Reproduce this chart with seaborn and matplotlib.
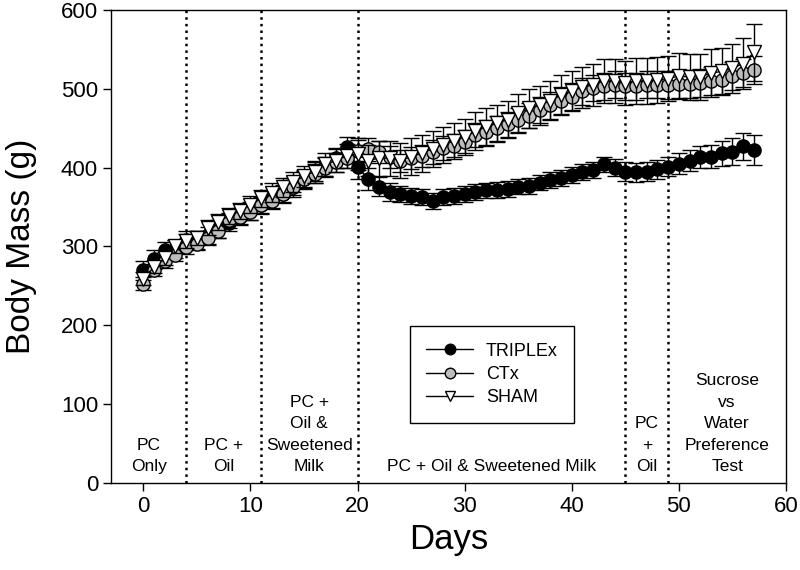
import matplotlib
matplotlib.use('Agg')
import matplotlib.pyplot as plt
import seaborn as sns
import numpy as np
import pandas as pd

# Body mass per day for each group
days = list(range(58))

triplex = [270, 284, 295, 297, 308, 308, 314, 322, 330, 338, 345, 352, 360, 366, 375, 385, 395, 402, 412, 426,
           401, 385, 376, 369, 367, 364, 363, 358, 363, 364, 367, 369, 371, 372, 373, 376, 377, 381, 384, 387,
           391, 394, 397, 404, 400, 395, 394, 395, 398, 401, 405, 409, 413, 414, 418, 420, 427, 422]
ctx = [253, 270, 281, 289, 299, 303, 311, 320, 333, 338, 344, 352, 358, 367, 376, 385, 392, 400, 407, 412,
       421, 423, 420, 414, 408, 412, 415, 420, 425, 428, 433, 441, 445, 450, 455, 460, 466, 473, 479, 485,
       490, 497, 501, 503, 505, 503, 503, 505, 505, 505, 506, 506, 507, 510, 511, 516, 520, 524]
sham = [259, 274, 285, 300, 307, 311, 324, 331, 339, 345, 353, 361, 368, 375, 382, 389, 395, 404, 409, 415,
        417, 409, 412, 412, 409, 414, 418, 424, 429, 434, 439, 446, 452, 456, 461, 469, 475, 479, 485, 492,
        497, 502, 505, 510, 510, 507, 510, 510, 511, 513, 516, 515, 515, 520, 522, 526, 532, 546]

# SEM
triplex_err = [12, 12, 11, 11, 11, 11, 11, 11, 11, 11, 11, 11, 11, 11, 12, 12, 12, 12, 13, 13,
               15, 14, 12, 11, 10, 10, 10, 10, 10, 10, 10, 10, 10, 10, 10, 10, 10, 10, 10, 10,
               10, 10, 10, 10, 11, 12, 12, 12, 12, 12, 13, 13, 14, 15, 16, 17, 17, 19]
ctx_err = [8, 8, 8, 8, 8, 8, 9, 9, 9, 9, 10, 10, 10, 11, 11, 11, 12, 12, 12, 13,
           14, 14, 14, 14, 14, 14, 14, 15, 15, 15, 15, 15, 16, 16, 16, 16, 16, 17, 17, 17,
           17, 17, 17, 17, 17, 17, 17, 17, 17, 18, 18, 18, 18, 18, 18, 18, 18, 18]
sham_err = [8, 8, 8, 8, 9, 9, 9, 10, 10, 10, 11, 11, 12, 12, 13, 13, 14, 14, 15, 15,
            20, 20, 22, 22, 22, 23, 23, 23, 23, 23, 23, 24, 24, 24, 24, 24, 25, 25, 25, 25,
            25, 26, 27, 28, 28, 28, 29, 29, 29, 29, 29, 29, 29, 30, 30, 31, 32, 36]

# diet phase boundaries and labels
phase_lines = [4, 11, 20, 45, 49]
phase_x = [0.5, 7.5, 15.5, 32.5, 47, 54.5]
phase_labels = ['PC\nOnly', 'PC +\nOil', 'PC +\nOil &\nSweetened\nMilk',
                'PC + Oil & Sweetened Milk', 'PC\n+\nOil',
                'Sucrose\nvs\nWater\nPreference\nTest']

sns.set_style('ticks')
plt.rcParams['font.family'] = ['Liberation Sans', 'DejaVu Sans']
plt.rcParams['text.color'] = 'black'
plt.rcParams['axes.labelcolor'] = 'black'
plt.rcParams['xtick.color'] = 'black'
plt.rcParams['ytick.color'] = 'black'

fig = plt.figure(figsize=(8, 5.7), dpi=100)
ax = fig.add_axes([0.139, 0.1526, 0.8435, 0.83])

groups = [
    ('TRIPLEx', triplex, triplex_err, 'o', 'black'),
    ('CTx', ctx, ctx_err, 'o', '#bdbdbd'),
    ('SHAM', sham, sham_err, 'v', 'white'),
]
z = 3
for name, vals, err, mk, fc in groups:
    df = pd.DataFrame({'Days': days, 'Mass': vals})
    ax.errorbar(df['Days'], df['Mass'], yerr=err, fmt='none', ecolor='black',
                elinewidth=1, capsize=6, capthick=1, zorder=z)
    sns.lineplot(data=df, x='Days', y='Mass', ax=ax, color='black', lw=1,
                 marker=mk, markersize=9.5, markerfacecolor=fc,
                 markeredgecolor='black', markeredgewidth=1, label=name, zorder=z + 1)
    z += 2

for d in phase_lines:
    ax.axvline(d, color='black', ls=':', lw=1.8, zorder=1)

for xp, txt in zip(phase_x, phase_labels):
    ax.text(xp, 11, txt, ha='center', va='bottom', fontsize=12.5, linespacing=1.55)

ax.set_xlim(-3, 60)
ax.set_ylim(0, 600)
ax.set_xticks([0, 10, 20, 30, 40, 50, 60])
ax.set_yticks([0, 100, 200, 300, 400, 500, 600])
ax.tick_params(direction='out', length=6, width=1, labelsize=16, color='black')
ax.set_xlabel('Days', fontsize=25, labelpad=4)
ax.set_ylabel('Body Mass (g)', fontsize=24, labelpad=17)
for s in ax.spines.values():
    s.set_visible(True)
    s.set_color('black')
    s.set_linewidth(1)

leg = ax.legend(loc='upper left', bbox_to_anchor=(0.443, 0.331), fontsize=13,
                frameon=True, fancybox=False, edgecolor='black', framealpha=1,
                handlelength=2.6, labelspacing=0.35, borderpad=0.9, handletextpad=0.7,
                markerscale=0.8, borderaxespad=0)
leg.get_frame().set_linewidth(1)

fig.savefig('out.png', dpi=100)
